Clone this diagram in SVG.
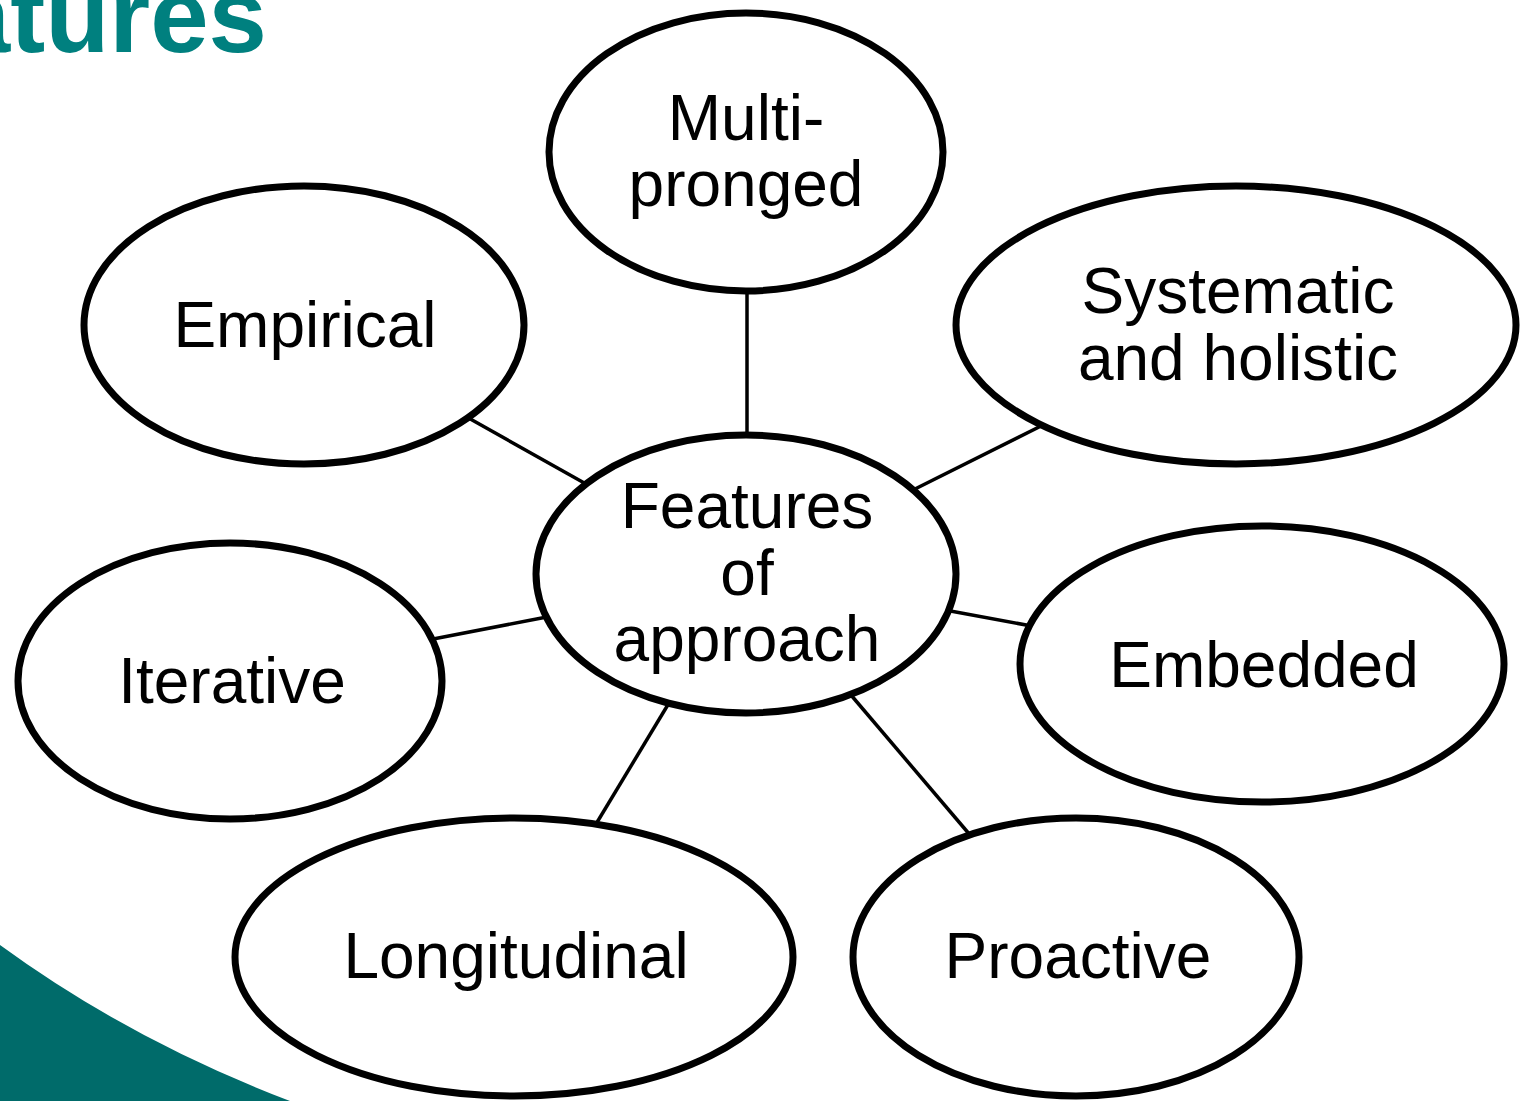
<svg xmlns="http://www.w3.org/2000/svg" width="1524" height="1101" viewBox="0 0 1524 1101">
<style>
.node ellipse{fill:#fff;stroke:#000;stroke-width:7}
.node text{font-family:"Liberation Sans",Arial,sans-serif;font-size:64px;fill:#000;text-anchor:middle}
.conn line{stroke:#000;stroke-width:3.5}
.title{font-family:"Liberation Sans",Arial,sans-serif;font-weight:bold;font-size:105px;fill:#00807f;text-anchor:end}
</style>
<rect width="1524" height="1101" fill="#fff"/>
<path d="M0,945 Q130,1040 290,1101 L0,1101 Z" fill="#006b6a"/>
<text class="title" x="267" y="52">atures</text>
<g id="connectors" class="conn">
<line x1="747" y1="280" x2="747" y2="445"/>
<line x1="465" y1="416" x2="595" y2="489"/>
<line x1="1045" y1="424" x2="907" y2="493"/>
<line x1="428" y1="640" x2="552" y2="616"/>
<line x1="945" y1="610" x2="1037" y2="627"/>
<line x1="590" y1="834" x2="672" y2="698"/>
<line x1="845" y1="688" x2="976" y2="842"/>
</g>
<g id="node-multi" class="node">
<ellipse cx="746" cy="152" rx="197" ry="139"/>
<text x="746" y="140">Multi-</text>
<text x="746" y="206">pronged</text>
</g>
<g id="node-empirical" class="node">
<ellipse cx="304" cy="325" rx="220" ry="139"/>
<text x="305" y="347">Empirical</text>
</g>
<g id="node-systematic" class="node">
<ellipse cx="1236" cy="325" rx="280" ry="139"/>
<text x="1238" y="313">Systematic</text>
<text x="1238" y="380">and holistic</text>
</g>
<g id="node-center" class="node">
<ellipse cx="746" cy="574" rx="210" ry="139"/>
<text x="747" y="528">Features</text>
<text x="747" y="595">of</text>
<text x="747" y="661">approach</text>
</g>
<g id="node-iterative" class="node">
<ellipse cx="230" cy="681" rx="212" ry="138"/>
<text x="232" y="703">Iterative</text>
</g>
<g id="node-embedded" class="node">
<ellipse cx="1262" cy="664" rx="242" ry="138"/>
<text x="1264" y="687">Embedded</text>
</g>
<g id="node-longitudinal" class="node">
<ellipse cx="514" cy="957" rx="279" ry="139"/>
<text x="516" y="978">Longitudinal</text>
</g>
<g id="node-proactive" class="node">
<ellipse cx="1076" cy="957" rx="223" ry="139"/>
<text x="1078" y="978">Proactive</text>
</g>
</svg>
